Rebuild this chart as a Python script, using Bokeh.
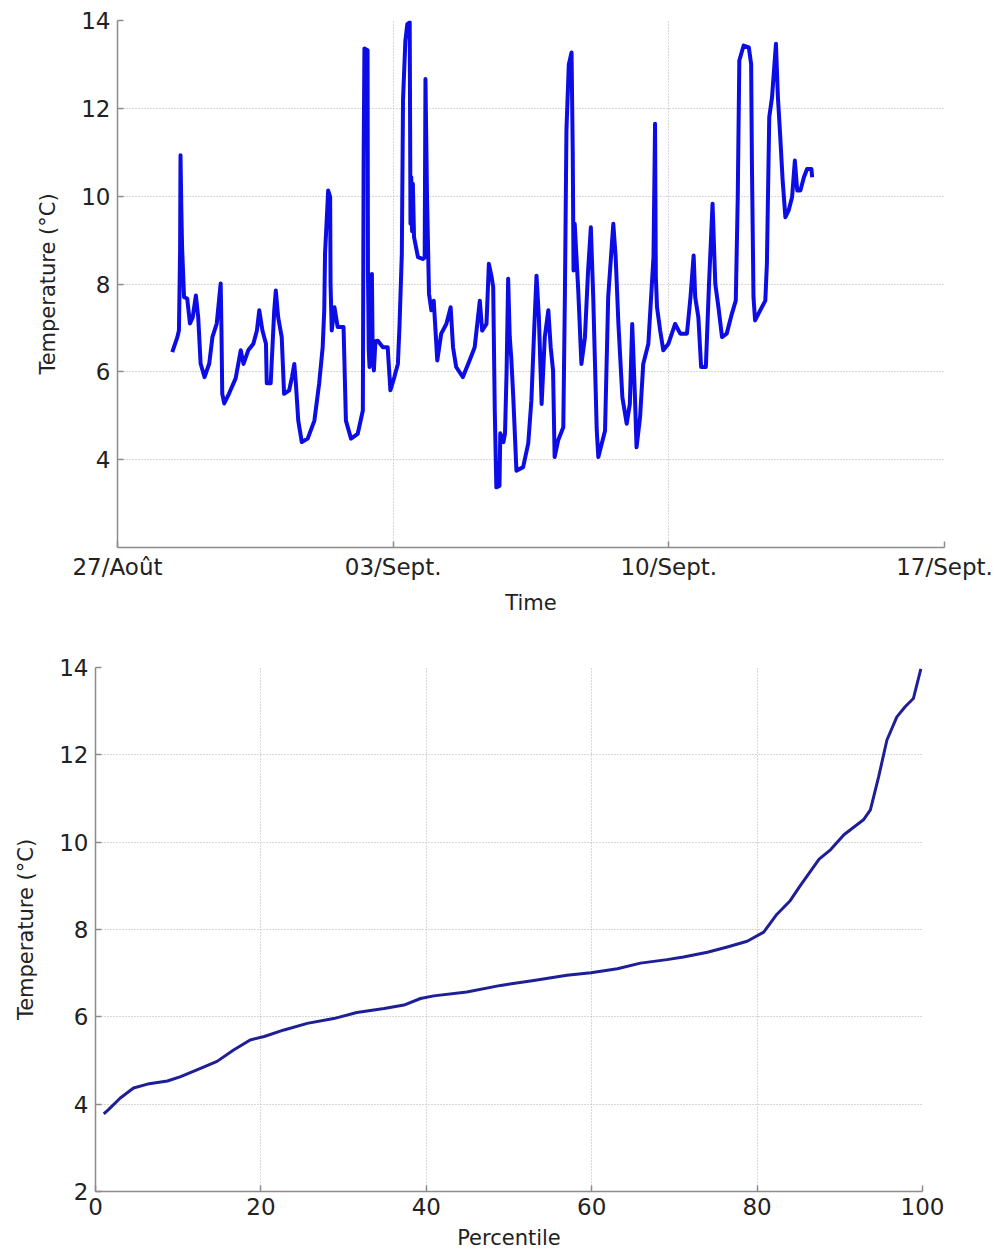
from bokeh.plotting import figure
from bokeh.models import FixedTicker
from bokeh.embed import file_html
from bokeh.resources import INLINE

# ---- data: top panel (time series, days since 27 Aug) ----
days = [1.39, 1.52, 1.56, 1.59, 1.60, 1.62, 1.64, 1.69, 1.77, 1.84, 1.91, 1.99, 2.05, 2.11, 2.21, 2.33,
        2.41, 2.52, 2.62, 2.64, 2.66, 2.71, 2.83, 3.00, 3.13, 3.20, 3.32, 3.45, 3.54, 3.60, 3.68, 3.77,
        3.79, 3.89, 3.98, 4.02, 4.08, 4.17, 4.23, 4.36, 4.43, 4.49, 4.53, 4.59, 4.68, 4.83, 5.00, 5.12,
        5.21, 5.25, 5.27, 5.35, 5.40, 5.41, 5.44, 5.51, 5.59, 5.74, 5.80, 5.93, 6.10, 6.23, 6.25, 6.27,
        6.35, 6.36, 6.38, 6.40, 6.43, 6.46, 6.48, 6.51, 6.55, 6.61, 6.74, 6.86, 6.93, 7.03, 7.12, 7.16,
        7.22, 7.25, 7.31, 7.36, 7.42, 7.44, 7.46, 7.48, 7.50, 7.53, 7.63, 7.75, 7.80, 7.82, 7.86, 7.91,
        7.97, 8.03, 8.12, 8.22, 8.35, 8.46, 8.52, 8.60, 8.77, 8.94, 9.07, 9.20, 9.26, 9.37, 9.43, 9.50,
        9.54, 9.58, 9.62, 9.70, 9.72, 9.76, 9.80, 9.84, 9.88, 9.92, 9.96, 10.00, 10.05, 10.13, 10.30,
        10.43, 10.51, 10.58, 10.64, 10.70, 10.77, 10.85, 10.94, 11.00, 11.06, 11.10, 11.19, 11.32, 11.36,
        11.40, 11.46, 11.53, 11.56, 11.58, 11.61, 11.70, 11.78, 11.87, 11.95, 12.02, 12.08, 12.17, 12.21,
        12.38, 12.46, 12.59, 12.65, 12.72, 12.82, 12.93, 13.01, 13.07, 13.14, 13.18, 13.27, 13.35, 13.48,
        13.61, 13.65, 13.67, 13.70, 13.78, 13.86, 13.99, 14.16, 14.29, 14.46, 14.55, 14.63, 14.67, 14.75,
        14.82, 14.94, 15.02, 15.11, 15.18, 15.26, 15.35, 15.47, 15.60, 15.70, 15.75, 15.79, 15.90, 16.03,
        16.09, 16.11, 16.15, 16.19, 16.32, 16.45, 16.49, 16.55, 16.62, 16.72, 16.77, 16.83, 16.89, 16.96,
        17.04, 17.13, 17.20, 17.26, 17.34, 17.43, 17.51, 17.62, 17.64]
temps = [6.45, 6.79, 6.94, 8.80, 10.93, 9.75, 8.84, 7.70, 7.67, 7.10, 7.24, 7.74, 7.24, 6.19, 5.88, 6.19,
         6.79, 7.10, 8.01, 6.94, 5.50, 5.28, 5.50, 5.85, 6.49, 6.18, 6.49, 6.64, 6.94, 7.40, 6.94, 6.64,
         5.74, 5.74, 7.40, 7.85, 7.24, 6.79, 5.50, 5.58, 5.88, 6.18, 5.73, 4.89, 4.40, 4.48, 4.89, 5.73,
         6.56, 7.40, 8.69, 10.13, 9.98, 8.00, 6.94, 7.47, 7.02, 7.02, 4.89, 4.48, 4.59, 5.12, 10.81, 13.36,
         13.32, 8.31, 6.50, 6.11, 7.90, 8.23, 6.40, 6.03, 6.70, 6.71, 6.56, 6.56, 5.58, 5.88, 6.18, 7.02,
         8.69, 12.18, 13.54, 13.92, 13.96, 9.37, 10.43, 9.20, 10.28, 9.07, 8.61, 8.57, 8.60, 12.67, 9.98, 7.78,
         7.40, 7.62, 6.26, 6.87, 7.09, 7.47, 6.56, 6.11, 5.88, 6.26, 6.56, 7.62, 6.94, 7.09, 8.46, 8.16,
         7.93, 5.12, 3.37, 3.40, 4.60, 4.50, 4.40, 4.60, 6.00, 8.12, 6.80, 6.30, 5.42, 3.75, 3.83,
         4.37, 5.35, 6.94, 8.19, 7.24, 5.27, 6.79, 7.40, 6.56, 6.03, 4.06, 4.44, 4.74, 7.70,
         11.50, 13.00, 13.27, 11.00, 8.31, 9.37, 7.85, 6.18, 6.79, 8.31, 9.29, 7.70, 4.66, 4.06,
         4.66, 7.70, 9.37, 8.61, 7.09, 5.42, 4.82, 5.27, 7.09, 5.42, 4.28, 4.97, 6.18, 6.64,
         8.61, 11.65, 8.16, 7.47, 6.94, 6.49, 6.64, 7.09, 6.87, 6.87, 7.70, 8.65, 7.70, 7.24,
         6.11, 6.11, 8.00, 9.83, 8.00, 7.47, 6.79, 6.87, 7.32, 7.62, 9.98, 13.09, 13.43, 13.39,
         13.01, 10.74, 7.70, 7.17, 7.40, 7.62, 8.46, 11.80, 12.25, 13.47, 12.25, 11.34, 10.36, 9.52,
         9.67, 9.98, 10.81, 10.13, 10.13, 10.43, 10.62, 10.62, 10.43]

time_tick_days = [0, 7, 14, 21]
time_tick_labels = ["27/Août", "03/Sept.", "10/Sept.", "17/Sept."]
top_y_ticks = [4, 6, 8, 10, 12, 14]

# ---- data: bottom panel (percentiles) ----
percentile = [1, 1.6, 3, 4.6, 6.3, 8.7, 10.3, 12.7, 14.7, 16.7, 18.7, 20.4, 22.8, 25.6, 28.8, 31.6,
              34.9, 37.3, 39.3, 40.9, 44.9, 49, 53, 57, 59.9, 63.1, 65.9, 69.1, 71.1, 74, 76.4, 78.8,
              80.8, 82.4, 84, 85.2, 87.5, 88.9, 90.5, 92.9, 93.7, 94.7, 95.7, 96.9, 97.9, 98.9, 99.8]
perc_temp = [3.78, 3.88, 4.14, 4.37, 4.46, 4.53, 4.63, 4.82, 4.98, 5.24, 5.47, 5.55, 5.70, 5.85, 5.96,
             6.10, 6.19, 6.27, 6.42, 6.48, 6.57, 6.72, 6.83, 6.95, 7.01, 7.10, 7.23, 7.31, 7.37, 7.48,
             7.60, 7.73, 7.94, 8.35, 8.66, 9.00, 9.61, 9.83, 10.17, 10.52, 10.74, 11.50, 12.34, 12.87,
             13.10, 13.29, 13.97]
perc_x_ticks = [0, 20, 40, 60, 80, 100]
perc_y_ticks = [2, 4, 6, 8, 10, 12, 14]

FONT = "DejaVu Sans"
AXIS_COLOR = "#8c8c8c"
GRID_COLOR = "#b0b0b0"


def style(p):
    p.outline_line_color = None
    p.background_fill_color = "white"
    p.border_fill_color = "white"
    for ax in (p.xaxis[0], p.yaxis[0]):
        ax.axis_line_color = AXIS_COLOR
        ax.axis_line_width = 1.5
        ax.major_tick_line_color = AXIS_COLOR
        ax.major_tick_line_width = 1.5
        ax.major_tick_in = 6
        ax.major_tick_out = 0
        ax.minor_tick_line_color = None
        ax.major_label_text_font = FONT
        ax.major_label_text_font_size = "23px"
        ax.major_label_text_color = "#222222"
        ax.axis_label_text_font = FONT
        ax.axis_label_text_font_size = "21px"
        ax.axis_label_text_font_style = "normal"
        ax.axis_label_text_color = "#222222"
    p.xaxis[0].major_label_standoff = 6
    p.xaxis[0].axis_label_standoff = 8
    p.yaxis[0].major_label_standoff = 7
    p.yaxis[0].axis_label_standoff = 18
    for g in (p.xgrid[0], p.ygrid[0]):
        g.grid_line_color = GRID_COLOR
        g.grid_line_dash = "1 2"
        g.grid_line_width = 1


p1 = figure(width=1001, height=628, x_range=(0, 21), y_range=(2, 14),
            output_backend="svg", toolbar_location=None,
            min_border_left=117, min_border_right=57, min_border_top=20, min_border_bottom=81)
p1.line(days, temps, line_color="#0c0ce6", line_width=4, line_join="round")
p1.xaxis.axis_label = "Time"
p1.yaxis.axis_label = "Temperature (°C)"
p1.xaxis.ticker = FixedTicker(ticks=time_tick_days)
p1.xaxis.major_label_overrides = {d: lab for d, lab in zip(time_tick_days, time_tick_labels)}
p1.yaxis.ticker = FixedTicker(ticks=top_y_ticks)
style(p1)

p2 = figure(width=1001, height=624, x_range=(0, 100), y_range=(2, 14),
            output_backend="svg", toolbar_location=None,
            min_border_left=95, min_border_right=79, min_border_top=39, min_border_bottom=58)
p2.line(percentile, perc_temp, line_color="#1e1e96", line_width=3, line_join="round")
p2.xaxis.axis_label = "Percentile"
p2.yaxis.axis_label = "Temperature (°C)"
p2.xaxis.ticker = FixedTicker(ticks=perc_x_ticks)
p2.yaxis.ticker = FixedTicker(ticks=perc_y_ticks)
style(p2)

open("out.html", "w").write(file_html([p1, p2], INLINE))
